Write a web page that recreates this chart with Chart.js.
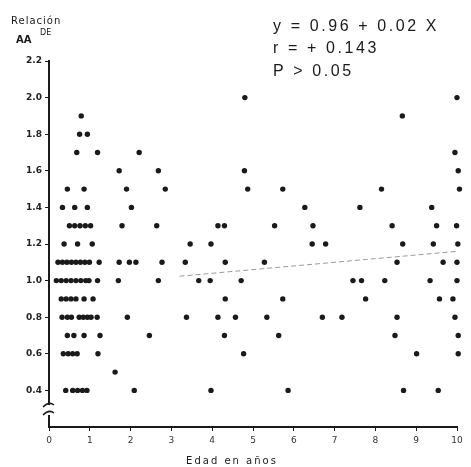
<!DOCTYPE html>
<html>
<head>
<meta charset="utf-8">
<script src="https://cdn.jsdelivr.net/npm/chart.js@4/dist/chart.umd.min.js"></script>
<style>
html,body{margin:0;padding:0;background:#fff;}
#wrap{position:relative;width:471px;height:467px;}
</style>
</head>
<body>
<div id="wrap"><canvas id="c" width="471" height="467"></canvas></div>
<script>
// ---- Data: ages (years) of points, grouped by ratio value ----
const ratioLevels = [2.0, 1.9, 1.8, 1.7, 1.6, 1.5, 1.4, 1.3, 1.2, 1.1, 1.0, 0.9, 0.8, 0.7, 0.6, 0.5, 0.4];
const ages_2_0 = [4.8, 10.0];
const ages_1_9 = [0.79, 8.66];
const ages_1_8 = [0.75, 0.94];
const ages_1_7 = [0.68, 1.19, 2.21, 9.95];
const ages_1_6 = [1.72, 2.68, 4.79, 10.03];
const ages_1_5 = [0.45, 0.86, 1.90, 2.85, 4.87, 5.73, 8.15, 10.06];
const ages_1_4 = [0.33, 0.63, 0.94, 2.02, 6.27, 7.62, 9.38];
const ages_1_3 = [0.50, 0.63, 0.76, 0.89, 1.02, 1.79, 2.64, 4.14, 4.30, 5.53, 6.47, 8.41, 9.50, 9.99];
const ages_1_2 = [0.37, 0.70, 1.06, 3.46, 3.97, 6.45, 6.78, 8.67, 9.42, 10.02];
const ages_1_1 = [0.22, 0.33, 0.44, 0.55, 0.66, 0.77, 0.88, 0.99, 1.23, 1.72, 1.97, 2.13, 2.77, 3.34, 4.32, 5.28, 8.53, 9.66, 10.0];
const ages_1_0 = [0.18, 0.30, 0.42, 0.54, 0.66, 0.78, 0.90, 0.98, 1.19, 1.70, 2.68, 3.67, 3.95, 4.71, 7.45, 7.66, 8.23, 9.34, 10.0, 10.2];
const ages_0_9 = [0.30, 0.42, 0.54, 0.66, 0.86, 1.08, 4.32, 5.73, 7.76, 9.57, 9.90, 10.15];
const ages_0_8 = [0.32, 0.45, 0.55, 0.74, 0.84, 0.94, 1.03, 1.18, 1.92, 3.37, 4.14, 4.57, 5.34, 6.70, 7.18, 8.53, 9.95];
const ages_0_7 = [0.45, 0.61, 0.86, 1.25, 2.46, 4.30, 5.63, 8.48, 10.03];
const ages_0_6 = [0.35, 0.47, 0.58, 0.69, 1.20, 4.77, 9.01, 10.03];
const ages_0_5 = [1.62];
const ages_0_4 = [0.41, 0.58, 0.70, 0.82, 0.93, 2.09, 3.97, 5.86, 8.69, 9.54];
const agesByLevel = [ages_2_0, ages_1_9, ages_1_8, ages_1_7, ages_1_6, ages_1_5, ages_1_4, ages_1_3,
  ages_1_2, ages_1_1, ages_1_0, ages_0_9, ages_0_8, ages_0_7, ages_0_6, ages_0_5, ages_0_4];

// regression y = 0.96 + 0.02 X, drawn from x = 3.2 to 10
const regIntercept = 0.96;
const regSlope = 0.02;
const regX = [3.2, 10];

const xTicks = [0,1,2,3,4,5,6,7,8,9,10];
const yTicks = [0.4,0.6,0.8,1.0,1.2,1.4,1.6,1.8,2.0,2.2];

const annotationLines = ["y = 0.96 + 0.02 X", "r = + 0.143", "P > 0.05"];
const yTitle1 = "Relación";
const yTitle2 = "AA";
const yTitleSup = "DE";
const xTitle = "Edad en años";

const points = [];
ratioLevels.forEach((lv, i) => agesByLevel[i].forEach(a => points.push({x: a, y: lv})));
const regPoints = regX.map(x => ({x: x, y: regIntercept + regSlope * x}));

const INK = '#1a1a1a';

const deco = {
  id: 'deco',
  afterDraw(chart) {
    const ctx = chart.ctx;
    const xs = chart.scales.x;
    ctx.save();
    // axis break on y axis
    const ax = xs.left;
    const yb = 410;
    ctx.fillStyle = '#fff';
    ctx.fillRect(ax - 3, yb - 5, 6, 10);
    ctx.strokeStyle = INK; ctx.lineWidth = 1.6;
    ctx.beginPath();
    ctx.moveTo(ax - 6, yb - 3); ctx.quadraticCurveTo(ax, yb - 9, ax + 5, yb - 5);
    ctx.moveTo(ax - 6, yb + 5); ctx.quadraticCurveTo(ax, yb - 1, ax + 5, yb + 3);
    ctx.stroke();
    // titles
    ctx.fillStyle = INK;
    ctx.textBaseline = 'alphabetic';
    ctx.font = '10px "DejaVu Sans"';
    ctx.textAlign = 'left';
    ctx.letterSpacing = '1px';
    ctx.fillText(yTitle1, 11, 24);
    ctx.letterSpacing = '0px';
    ctx.font = 'bold 10px "DejaVu Sans"';
    ctx.fillText(yTitle2, 16, 43);
    ctx.font = '8px "DejaVu Sans"';
    ctx.fillText(yTitleSup, 40, 35);
    ctx.font = '10px "DejaVu Sans"';
    ctx.textAlign = 'center';
    ctx.letterSpacing = '2px';
    ctx.fillText(xTitle, 232, 464);
    // annotation
    ctx.textAlign = 'left';
    ctx.font = '16px "Liberation Sans"';
    ctx.letterSpacing = '2.6px';
    ctx.fillText(annotationLines[0], 273, 31);
    ctx.fillText(annotationLines[1], 273, 53);
    ctx.fillText(annotationLines[2], 273, 76);
    ctx.restore();
  }
};

new Chart(document.getElementById('c'), {
  type: 'scatter',
  data: {
    datasets: [
      {
        data: points,
        backgroundColor: INK,
        borderWidth: 0,
        pointRadius: 2.7,
        clip: false
      },
      {
        type: 'line',
        data: regPoints,
        borderColor: '#9a9a9a',
        borderWidth: 1,
        borderDash: [5, 3],
        pointRadius: 0,
        fill: false
      }
    ]
  },
  options: {
    responsive: false,
    animation: false,
    devicePixelRatio: 1,
    layout: { padding: { left: 0, top: 61, right: 14, bottom: 0 } },
    plugins: { legend: { display: false }, tooltip: { enabled: false } },
    scales: {
      x: {
        type: 'linear', min: 0, max: 10,
        afterBuildTicks: s => { s.ticks = xTicks.map(v => ({value: v})); },
        afterFit: s => { s.height = 40; },
        ticks: { color: '#333', font: { size: 9, family: 'DejaVu Sans' }, padding: 4, callback: v => String(v) },
        grid: { drawOnChartArea: false, drawTicks: true, tickLength: 4, color: INK, lineWidth: 1 },
        border: { color: INK, width: 2 }
      },
      y: {
        type: 'linear', min: 0.2, max: 2.2,
        afterBuildTicks: s => { s.ticks = yTicks.map(v => ({value: v})); },
        afterFit: s => { s.width = 49; },
        ticks: { color: '#222', font: { size: 9, family: 'DejaVu Sans', weight: 'bold' }, padding: 3, callback: v => Number(v).toFixed(1) },
        grid: { drawOnChartArea: false, drawTicks: true, tickLength: 4, color: INK, lineWidth: 1 },
        border: { color: INK, width: 2 }
      }
    }
  },
  plugins: [deco]
});
</script>
</body>
</html>
